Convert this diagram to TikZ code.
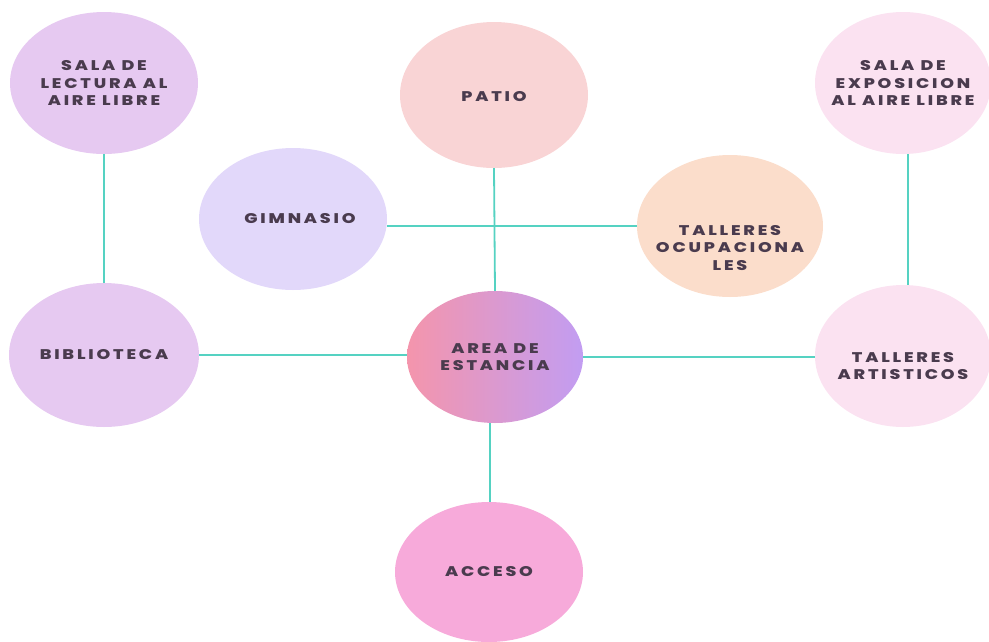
\documentclass[tikz,border=0pt]{standalone}
\usepackage{fontspec}
\setsansfont{Poppins}[LetterSpace=20, FakeStretch=1.25, BoldFont=* ExtraBold]
\usetikzlibrary{shapes.geometric}

\definecolor{lila}{HTML}{E6C9F1}
\definecolor{salmon}{HTML}{F9D4D5}
\definecolor{rosa}{HTML}{FBE2F1}
\definecolor{lavanda}{HTML}{E2D8FA}
\definecolor{durazno}{HTML}{FBDDCB}
\definecolor{fucsia}{HTML}{F7AADA}
\definecolor{areaizq}{HTML}{F495AC}
\definecolor{areader}{HTML}{C29DF2}
\definecolor{teal}{HTML}{55D2C2}
\definecolor{texto}{HTML}{4A3B4E}

\tikzset{
  zona/.style={ellipse, minimum width=#1, minimum height=142pt, inner sep=0pt},
  zona/.default=188pt,
  rotulo/.style={font=\sffamily\bfseries\fontsize{14}{17.5}\selectfont, text=texto, align=center},
  enlace/.style={draw=teal, line width=1.8pt}
}

\begin{document}
\begin{tikzpicture}[x=1pt,y=-1pt]
  \useasboundingbox (0,0) rectangle (989,641);

  % zonas
  \node[zona, fill=lila] (lectura) at (104,83) {};
  \node[zona, fill=salmon, minimum height=146pt] (patio) at (494,95) {};
  \node[zona=176pt, fill=rosa] (expo) at (903,83) {};
  \node[zona, fill=lavanda] (gim) at (293,219) {};
  \node[zona=186pt, fill=durazno] (ocup) at (730,226) {};
  \node[zona=190pt, fill=lila, minimum height=144pt] (biblio) at (104,355) {};
  \node[zona=176pt, left color=areaizq, right color=areader,
        minimum height=132pt] (area) at (495,357) {};
  \node[zona=176pt, fill=rosa] (artis) at (903,356) {};
  \node[zona, fill=fucsia, minimum height=140pt] (acceso) at (489,572) {};

  % textos
  \node[rotulo] (lecturatxt) at (lectura) {SALA DE\\LECTURA AL\\AIRE LIBRE};
  \node[rotulo] (patiotxt) at ([yshift=-2pt]patio.center) {PATIO};
  \node[rotulo] (expotxt) at (expo) {SALA DE\\EXPOSICION\\AL AIRE LIBRE};
  \node[rotulo] (gimtxt) at ([xshift=7pt]gim.center) {GIMNASIO};
  \node[rotulo] (ocuptxt) at ([yshift=-22pt]ocup.center) {TALLERES\\OCUPACIONA\\LES};
  \node[rotulo] (bibliotxt) at (biblio) {BIBLIOTECA};
  \node[rotulo] (areatxt) at (area) {AREA DE\\ESTANCIA};
  \node[rotulo] (artistxt) at ([yshift=-10pt]artis.center) {TALLERES\\ARTISTICOS};
  \node[rotulo] (accesotxt) at (acceso) {ACCESO};

  % enlaces
  \draw[enlace] (lectura.south) -- (biblio.north);
  \draw[enlace] (patio.south) -- (area.north);
  \draw[enlace] ([xshift=5pt]expo.south) -- ([xshift=5pt]artis.north);
  \draw[enlace] (ocup.west -| gim.east) -- (ocup.west);
  \draw[enlace] (biblio.east) -- (area.west |- biblio.east);
  \draw[enlace] (area.east) -- (artis.west |- area.east);
  \draw[enlace] ([xshift=1pt]acceso.north |- area.south) -- ([xshift=1pt]acceso.north);
\end{tikzpicture}
\end{document}
